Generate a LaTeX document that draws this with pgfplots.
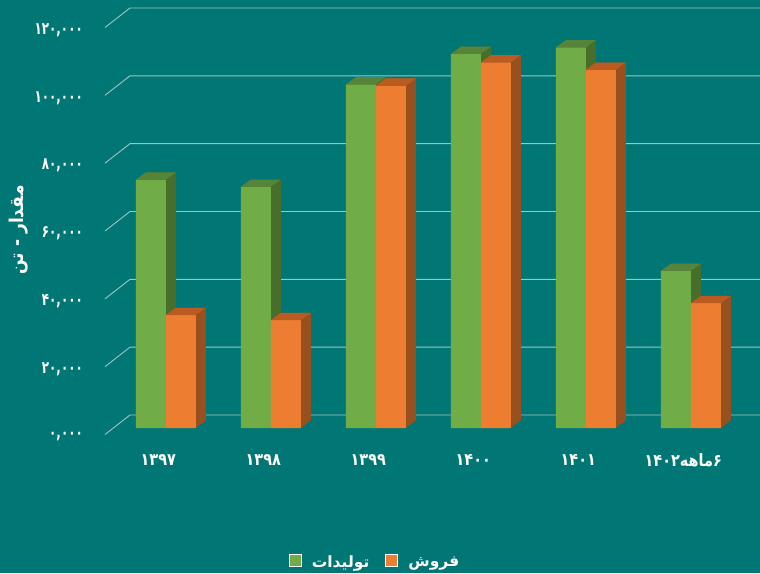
\documentclass[border=0pt]{standalone}
\usepackage{fontspec}
\usepackage{pgfplots}
\usepackage{pgfplotstable}
\pgfplotsset{compat=1.18}
\TeXXeTstate=1
\newfontfamily\pfont[Script=Arabic]{DejaVu Sans}
\newfontfamily\pfontc[Script=Arabic,FakeStretch=0.7]{DejaVu Sans}
\newfontfamily\pfontx[Script=Arabic,FakeStretch=0.85]{DejaVu Sans}
\newfontfamily\pfonty[Script=Arabic,FakeStretch=0.9]{DejaVu Sans}
\definecolor{bg}{HTML}{017775}
\definecolor{gridc}{HTML}{9EC4C3}
\definecolor{gF}{HTML}{70AD47}
\definecolor{gT}{HTML}{56843A}
\definecolor{gS}{HTML}{476E2B}
\definecolor{oF}{HTML}{ED7D31}
\definecolor{oT}{HTML}{BA5C22}
\definecolor{oS}{HTML}{98501F}
\pgfdeclareplotmark{topG}{%
  \pgfpathmoveto{\pgfqpoint{-30pt}{0pt}}%
  \pgfpathlineto{\pgfqpoint{0pt}{0pt}}%
  \pgfpathlineto{\pgfqpoint{10pt}{7.3pt}}%
  \pgfpathlineto{\pgfqpoint{-20pt}{7.3pt}}%
  \pgfpathclose\pgfusepathqfill}
\pgfdeclareplotmark{topO}{%
  \pgfpathmoveto{\pgfqpoint{0pt}{0pt}}%
  \pgfpathlineto{\pgfqpoint{30pt}{0pt}}%
  \pgfpathlineto{\pgfqpoint{40pt}{7.3pt}}%
  \pgfpathlineto{\pgfqpoint{10pt}{7.3pt}}%
  \pgfpathclose\pgfusepathqfill}
\tikzset{depth/.style={
  preaction={fill=#1, transform canvas={shift={(1pt,0.73pt)}}},
  preaction={fill=#1, transform canvas={shift={(2pt,1.46pt)}}},
  preaction={fill=#1, transform canvas={shift={(3pt,2.19pt)}}},
  preaction={fill=#1, transform canvas={shift={(4pt,2.92pt)}}},
  preaction={fill=#1, transform canvas={shift={(5pt,3.65pt)}}},
  preaction={fill=#1, transform canvas={shift={(6pt,4.38pt)}}},
  preaction={fill=#1, transform canvas={shift={(7pt,5.11pt)}}},
  preaction={fill=#1, transform canvas={shift={(8pt,5.84pt)}}},
  preaction={fill=#1, transform canvas={shift={(9pt,6.57pt)}}},
  preaction={fill=#1, transform canvas={shift={(10pt,7.3pt)}}}}}
\pgfplotstableread{
x prod sale
0 73200 33300
1 71100 31800
2 101300 100900
3 110300 107800
4 112200 105600
5 46300 36800
}\datatable
\begin{document}
\begin{tikzpicture}
\fill[bg] (0,0) rectangle (760pt,573pt);
\useasboundingbox (0,0) rectangle (760pt,573pt);
\begin{axis}[
  at={(113.3pt,145pt)}, anchor=south west,
  scale only axis, width=630pt, height=407pt,
  xmin=-0.5, xmax=5.5, ymin=0, ymax=120000,
  clip=false,
  axis x line*=bottom, axis y line*=left,
  axis line style={draw=none},
  major tick length=0pt, tick style={draw=none},
  scaled y ticks=false,
  ytick={0,20000,40000,60000,80000,100000,120000},
  yticklabels={{۰,۰۰۰},{۲۰,۰۰۰},{۴۰,۰۰۰},{۶۰,۰۰۰},{۸۰,۰۰۰},{۱۰۰,۰۰۰},{۱۲۰,۰۰۰}},
  yticklabel style={font=\pfontc\bfseries\fontsize{17}{19}\selectfont, text=white, anchor=east, inner sep=0pt, xshift=-30.3pt, yshift=-9pt},
  xtick={0,1,2,3,4,5},
  xticklabels={{۱۳۹۷},{۱۳۹۸},{۱۳۹۹},{۱۴۰۰},{۱۴۰۱},{\beginR ۶ماهه\beginL ۱۴۰۲\endL\endR}},
  xticklabel style={font=\pfontx\bfseries\fontsize{17}{19}\selectfont, text=white, anchor=center, xshift=-7.5pt, yshift=-32pt},
  ylabel={\beginR مقدار - تن\endR},
  ylabel style={font=\pfonty\bfseries\fontsize{19}{22}\selectfont, text=white, at={(axis description cs:-0.1497,0.4865)}, anchor=center},
  legend columns=2,
  legend style={draw=none, fill=none, text=white, font=\pfont\bfseries\fontsize{15.5}{18}\selectfont, at={(axis description cs:0.4154,-0.329)}, anchor=center, /tikz/every even column/.append style={column sep=14pt}, /tikz/every odd column/.append style={column sep=8pt}},
]
\pgfplotsinvokeforeach{0,20000,40000,60000,80000,100000,120000}{
  \draw[gridc, line width=0.9pt] ([xshift=-8.3pt,yshift=-6.5pt]axis cs:-0.5,#1) -- ([xshift=16.7pt,yshift=13pt]axis cs:-0.5,#1) -- ([xshift=16.7pt,yshift=13pt]axis cs:5.5,#1);
}
\addplot[ybar, bar width=30pt, bar shift=-15pt, fill=gF, draw=none, depth=gS, mark=topG, mark options={fill=gT, draw=none}, forget plot] table[x=x,y=prod]{\datatable};
\addplot[ybar, bar width=30pt, bar shift=15pt, fill=oF, draw=none, depth=oS, mark=topO, mark options={fill=oT, draw=none}, forget plot] table[x=x,y=sale]{\datatable};
\addlegendimage{legend image code/.code={\draw[white, line width=1pt, fill=gF] (0pt,-5pt) rectangle (12pt,7pt);}}
\addlegendentry{\beginR تولیدات\endR}
\addlegendimage{legend image code/.code={\draw[white, line width=1pt, fill=oF] (0pt,-5pt) rectangle (12pt,7pt);}}
\addlegendentry{\beginR فروش\endR}
\end{axis}
\end{tikzpicture}
\end{document}
